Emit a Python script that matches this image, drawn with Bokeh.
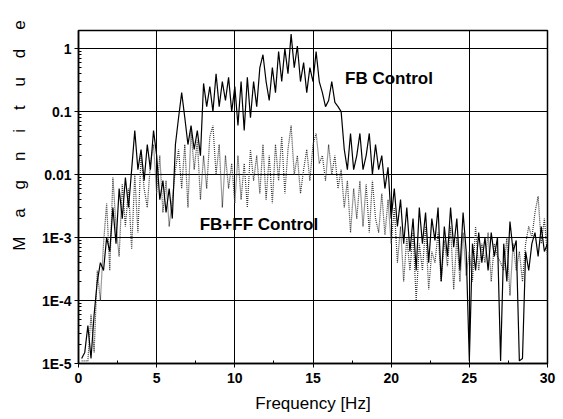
from bokeh.plotting import figure
from bokeh.models import Range1d, FixedTicker, Label
from bokeh.embed import file_html
from bokeh.resources import INLINE

# ---------------- data ----------------
freq = [
    0.2, 0.4, 0.6, 0.8, 1.0, 1.2, 1.4, 1.6, 1.8, 2.0,
    2.2, 2.4, 2.6, 2.8, 3.0, 3.2, 3.4, 3.6, 3.8, 4.0,
    4.2, 4.4, 4.6, 4.8, 5.0, 5.2, 5.4, 5.6, 5.8, 6.0,
    6.2, 6.4, 6.6, 6.8, 7.0, 7.2, 7.4, 7.6, 7.8, 8.0,
    8.2, 8.4, 8.6, 8.8, 9.0, 9.2, 9.4, 9.6, 9.8, 10.0,
    10.2, 10.4, 10.6, 10.8, 11.0, 11.2, 11.4, 11.6, 11.8, 12.0,
    12.2, 12.4, 12.6, 12.8, 13.0, 13.2, 13.4, 13.6, 13.8, 14.0,
    14.2, 14.4, 14.6, 14.8, 15.0, 15.2, 15.4, 15.6, 15.8, 16.0,
    16.2, 16.4, 16.6, 16.8, 17.0, 17.2, 17.4, 17.6, 17.8, 18.0,
    18.2, 18.4, 18.6, 18.8, 19.0, 19.2, 19.4, 19.6, 19.8, 20.0,
    20.2, 20.4, 20.6, 20.8, 21.0, 21.2, 21.4, 21.6, 21.8, 22.0,
    22.2, 22.4, 22.6, 22.8, 23.0, 23.2, 23.4, 23.6, 23.8, 24.0,
    24.2, 24.4, 24.6, 24.8, 25.0, 25.2, 25.4, 25.6, 25.8, 26.0,
    26.2, 26.4, 26.6, 26.8, 27.0, 27.2, 27.4, 27.6, 27.8, 28.0,
    28.2, 28.4, 28.6, 28.8, 29.0, 29.2, 29.4, 29.6, 29.8, 30.0,
]

fb_control = [
    1.2e-5, 1.5e-5, 4e-5, 1.2e-5, 6e-5, 2e-4, 4e-4, 3e-4, 1e-3, 6e-4,
    3e-3, 8e-4, 6e-3, 2e-3, 9e-3, 3e-3, 0.012, 0.05, 0.012, 0.025,
    0.008, 0.03, 0.012, 0.05, 0.02, 0.004, 0.008, 0.0025, 0.006, 0.002,
    0.03, 0.08, 0.2, 0.08, 0.03, 0.06, 0.025, 0.05, 0.02, 0.28,
    0.12, 0.25, 0.1, 0.4, 0.12, 0.3, 0.15, 0.35, 0.1, 0.25,
    0.06, 0.3, 0.05, 0.35, 0.08, 0.3, 0.12, 0.5, 0.8, 0.3,
    0.15, 0.5, 0.2, 0.9, 0.3, 1.0, 0.4, 1.7, 0.5, 1.1,
    0.3, 0.6, 0.2, 0.5, 0.3, 0.9, 0.3, 0.2, 0.12, 0.15,
    0.3, 0.14, 0.12, 0.1, 0.025, 0.012, 0.045, 0.012, 0.02, 0.045,
    0.012, 0.02, 0.045, 0.01, 0.03, 0.012, 0.02, 0.006, 0.013, 0.002,
    0.006, 0.0015, 0.004, 0.0008, 0.003, 0.0006, 0.002, 0.0003, 0.003, 0.0008,
    0.0025, 0.0004, 0.002, 0.0009, 0.003, 0.0002, 0.0015, 0.0005, 0.003, 0.0007,
    0.002, 0.0003, 0.0025, 0.0006, 1.1e-5, 0.0008, 0.0003, 0.0012, 0.0004, 0.001,
    0.0003, 0.0012, 0.0005, 0.001, 1.1e-5, 0.0008, 0.0002, 0.0018, 0.0006, 0.0009,
    1.1e-5, 1.2e-5, 0.0006, 0.0003, 0.0008, 0.0012, 0.0005, 0.0015, 0.0006, 0.0008,
]

fbff_control = [
    1.1e-5, 1.1e-5, 1.1e-5, 6e-5, 1.5e-5, 3e-4, 1e-4, 8e-4, 3.5e-3, 3e-4,
    9e-3, 1.5e-3, 5e-4, 7e-3, 1.5e-3, 6e-3, 6.5e-4, 0.01, 1.2e-3, 0.02,
    0.006, 0.003, 0.015, 0.03, 0.005, 0.02, 0.0025, 0.008, 0.0015, 0.004,
    0.012, 0.025, 0.006, 0.03, 0.003, 0.05, 0.012, 0.035, 0.004, 0.02,
    0.006, 0.04, 0.06, 0.01, 0.03, 0.003, 0.02, 0.006, 0.015, 0.0035,
    0.02, 0.004, 0.015, 0.003, 0.025, 0.008, 0.02, 0.005, 0.03, 0.004,
    0.02, 0.0035, 0.03, 0.008, 0.04, 0.005, 0.025, 0.06, 0.01, 0.02,
    0.005, 0.012, 0.025, 0.008, 0.03, 0.045, 0.015, 0.02, 0.008, 0.03,
    0.01, 0.02, 0.006, 0.012, 0.003, 0.008, 0.0012, 0.006, 0.002, 0.008,
    0.0015, 0.007, 0.0012, 0.008, 0.002, 0.0012, 0.005, 0.0011, 0.004, 0.0008,
    0.003, 0.0004, 0.0015, 0.0002, 0.001, 0.0003, 0.0012, 0.0001, 0.0008, 0.0003,
    0.0015, 0.00015, 0.0006, 0.0004, 0.0012, 0.0002, 0.0009, 0.00035, 0.0015, 0.00015,
    0.001, 0.0002, 0.0012, 0.00025, 0.0006, 0.0002, 0.0015, 0.0003, 0.0008, 0.0004,
    0.0012, 0.0002, 0.0008, 0.0005, 0.0004, 0.0003, 0.001, 0.00012, 0.0008, 0.0003,
    0.0006, 0.0002, 0.0008, 0.0015, 0.001, 0.0025, 0.0045, 0.0008, 0.002, 0.0005,
]

x_ticks = [0, 5, 10, 15, 20, 25, 30]
x_minor_ticks = [2.5, 7.5, 12.5, 17.5, 22.5, 27.5]
y_ticks = [1e-5, 1e-4, 1e-3, 1e-2, 1e-1, 1.0]
y_tick_labels = ["1E-5", "1E-4", "1E-3", "0.01", "0.1", "1"]
y_minor_ticks = [m * t for t in y_ticks[:-1] for m in range(2, 10)]

series_names = ["FB Control", "FB+FF Control"]
x_title = "Frequency [Hz]"
y_title = "Magnitude"

FONT = "Liberation Sans"

# ---------------- figure ----------------
p = figure(width=563, height=419,
           x_range=Range1d(0, 30), y_range=Range1d(1e-5, 1.94),
           y_axis_type="log",
           output_backend="svg", toolbar_location=None,
           min_border_left=78, min_border_right=16,
           min_border_top=30, min_border_bottom=56)

p.background_fill_color = "white"
p.border_fill_color = "white"
p.outline_line_color = "black"
p.outline_line_width = 1.5

# lines
p.line(freq, fbff_control, line_color="#3a3a3a", line_width=1.2, line_dash="1 1")
p.line(freq, fb_control, line_color="black", line_width=1.2)

# axes
p.xaxis.ticker = FixedTicker(ticks=x_ticks, minor_ticks=x_minor_ticks)
p.yaxis.ticker = FixedTicker(ticks=y_ticks, minor_ticks=y_minor_ticks)
p.yaxis.major_label_overrides = {t: l for t, l in zip(y_ticks, y_tick_labels)}

for ax in (p.xaxis[0], p.yaxis[0]):
    ax.axis_line_color = "black"
    ax.axis_line_width = 1.5
    ax.major_tick_line_color = "black"
    ax.minor_tick_line_color = "black"
    ax.major_tick_out = 4
    ax.major_tick_in = 0
    ax.minor_tick_in = 3
    ax.minor_tick_out = 0
    ax.major_label_text_font = FONT
    ax.major_label_text_font_style = "bold"
    ax.major_label_text_font_size = "14px"
    ax.major_label_text_color = "black"

p.xaxis.major_label_standoff = 5
p.yaxis.major_label_standoff = 3

p.xaxis.axis_label = x_title
p.xaxis.axis_label_text_font = FONT
p.xaxis.axis_label_text_font_style = "normal"
p.xaxis.axis_label_text_font_size = "17px"
p.xaxis.axis_label_standoff = 8
p.xaxis.axis_label_text_color = "black"

# y axis title: letters spaced out, shifted upward with leading padding
nb = "\u00a0\u00a0\u00a0"
spaced = (" " + nb).join(list(y_title))
pad = "\u00a0" * 26
p.yaxis.axis_label = pad + spaced
p.yaxis.axis_label_text_font = FONT
p.yaxis.axis_label_text_font_style = "normal"
p.yaxis.axis_label_text_font_size = "17px"
p.yaxis.axis_label_standoff = 10
p.yaxis.axis_label_text_color = "black"

# grid
p.xgrid.grid_line_color = "black"
p.ygrid.grid_line_color = "black"
p.xgrid.grid_line_width = 1
p.ygrid.grid_line_width = 1
p.ygrid.minor_grid_line_color = None

# series annotations
p.add_layout(Label(x=17.05, y=0.34, text=series_names[0],
                   text_align="left", text_baseline="middle",
                   text_font=FONT, text_font_style="bold",
                   text_font_size="17px", text_color="black"))
p.add_layout(Label(x=7.75, y=1.6e-3, text=series_names[1],
                   text_align="left", text_baseline="middle",
                   text_font=FONT, text_font_style="bold",
                   text_font_size="17px", text_color="black"))

open("out.html", "w").write(file_html(p, INLINE))
